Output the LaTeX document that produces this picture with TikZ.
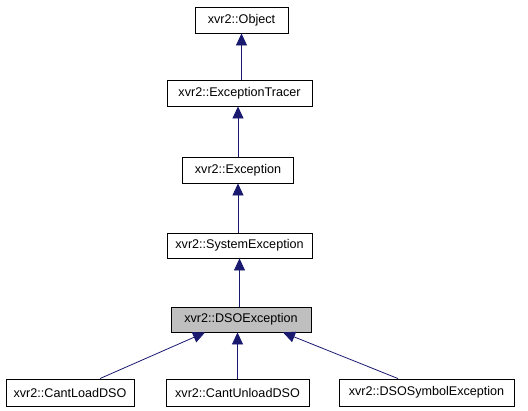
\documentclass[tikz,border=0pt]{standalone}
\usepackage{fontspec}
\setmainfont{Liberation Sans}
\usetikzlibrary{arrows.meta}
\definecolor{edgec}{HTML}{191970}
\definecolor{hl}{HTML}{BFBFBF}
\tikzset{
  cls/.style={draw=black, line width=0.9pt, fill=white, inner sep=0pt, font=\fontsize{12.6}{14}\selectfont, text=black},
  inh/.style={draw=edgec, line width=0.8pt, {Triangle[length=12pt,width=11pt,fill=edgec]}-},
}
\begin{document}
\begin{tikzpicture}[x=1pt,y=-1pt]
\useasboundingbox (0,0) rectangle (528,411);
\node[cls, minimum width=93pt, minimum height=26pt] (obj) at (241.5,20) {xvr2::Object};
\node[cls, minimum width=145pt, minimum height=26pt] (tr) at (239.5,93) {xvr2::ExceptionTracer};
\node[cls, minimum width=111pt, minimum height=26pt] (ex) at (238,170) {xvr2::Exception};
\node[cls, minimum width=145pt, minimum height=25pt] (se) at (239.5,245.5) {xvr2::SystemException};
\node[cls, fill=hl, minimum width=140pt, minimum height=25pt] (dso) at (241,319.5) {xvr2::DSOException};
\node[cls, minimum width=128pt, minimum height=27pt] (cl) at (70,392.5) {xvr2::CantLoadDSO};
\node[cls, minimum width=143pt, minimum height=27pt] (cu) at (237.5,392.5) {xvr2::CantUnloadDSO};
\node[cls, minimum width=175pt, minimum height=27pt] (ds) at (426.5,392.5) {xvr2::DSOSymbolException};
\draw[inh] (obj.south) -- (tr.north -| obj.south);
\draw[inh] (tr.south -| ex.north) -- (ex.north);
\draw[inh] (ex.south) -- (se.north -| ex.south);
\draw[inh] (se.south) -- (dso.north -| se.south);
\draw[inh] ([xshift=-36pt]dso.south) -- ([xshift=30pt]cl.north);
\draw[inh] (dso.south -| cu.north) -- (cu.north);
\draw[inh] ([xshift=42pt]dso.south) -- ([xshift=-28.5pt]ds.north);
\end{tikzpicture}
\end{document}
